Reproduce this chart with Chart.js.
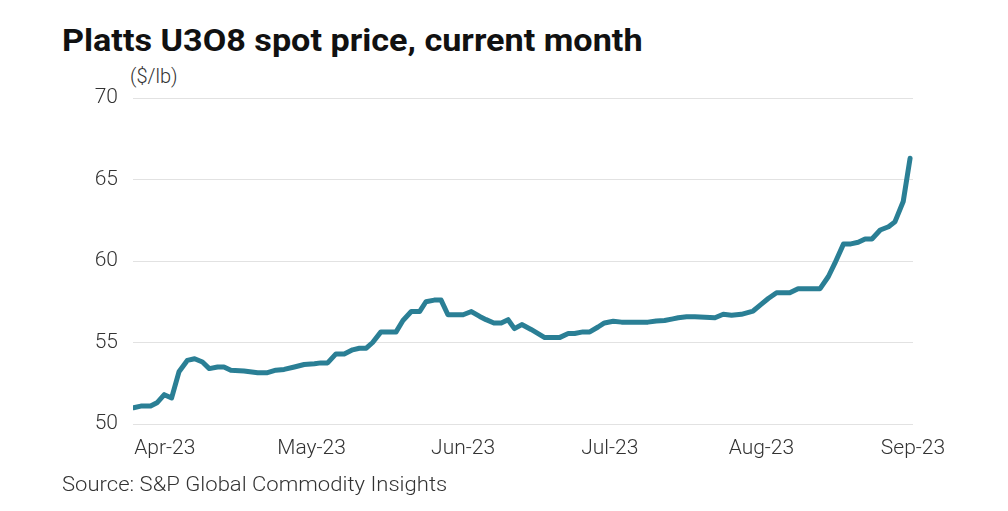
<!DOCTYPE html>
<html>
<head>
<meta charset="utf-8">
<script src="https://cdn.jsdelivr.net/npm/chart.js@4.4.0/dist/chart.umd.min.js"></script>
<style>
  html, body { margin: 0; padding: 0; background: #fff; }
  #wrap { position: relative; width: 1008px; height: 511px; overflow: hidden; font-family: Roboto, "Liberation Sans", sans-serif; }
  #title { position: absolute; left: 62px; top: 21px; font-size: 32px; font-weight: 700; color: #111; white-space: nowrap; transform-origin: 0 0; }
  #unit { position: absolute; left: 130px; top: 64px; font-size: 20px; font-weight: 300; color: #333; white-space: nowrap; }
  #source { position: absolute; left: 62px; top: 472px; font-size: 20px; font-weight: 300; color: #333; white-space: nowrap; transform-origin: 0 0; }
  canvas { position: absolute; left: 0; top: 0; }
</style>
</head>
<body>
<div id="wrap">
  <div id="title">Platts U3O8 spot price, current month</div>
  <div id="unit">($/lb)</div>
  <canvas id="chart" width="1008" height="511"></canvas>
  <div id="source">Source: S&amp;P Global Commodity Insights</div>
</div>
<script>
// Days counted from 1 Apr 2023
const days = [
  -6.4, -4.9, -2.9, -1.6, -0.1, 1.4, 2.9, 4.6, 6.1, 7.7, 9.1, 10.8, 12.1, 13.5,
  16.2, 19.0, 21.0, 22.7, 24.4, 26.5, 28.5, 30.6, 31.9, 33.3, 35.0, 36.7, 38.4,
  39.8, 41.2, 42.5, 44.2, 47.3, 48.7, 50.4, 52.1, 53.4, 55.1, 56.5, 57.9, 61.0,
  62.7, 64.4, 65.7, 67.3, 68.8, 70.2, 71.5, 73.0, 74.9, 77.7, 80.7, 82.5, 83.8,
  85.5, 86.9, 88.6, 89.9, 91.7, 93.4, 94.7, 98.8, 100.5, 102.2, 103.9, 105.0,
  106.7, 108.4, 112.5, 114.2, 115.9, 117.9, 120.3, 122.0, 123.4, 125.1, 127.8,
  129.5, 134.0, 135.7, 137.0, 138.8, 140.3, 141.8, 143.2, 144.6, 146.3, 148.0,
  149.3, 151.0, 152.4
];
// U3O8 spot price ($/lb)
const prices = [
  51.0, 51.1, 51.1, 51.3, 51.8, 51.6, 53.2, 53.9, 54.0, 53.8, 53.4, 53.5, 53.5, 53.3,
  53.25, 53.15, 53.15, 53.3, 53.35, 53.5, 53.65, 53.7, 53.75, 53.75, 54.3, 54.3, 54.55,
  54.65, 54.65, 55.0, 55.65, 55.65, 56.35, 56.9, 56.9, 57.5, 57.6, 57.6, 56.7, 56.7,
  56.9, 56.6, 56.4, 56.2, 56.2, 56.4, 55.85, 56.1, 55.8, 55.3, 55.3, 55.55, 55.55,
  55.65, 55.65, 55.95, 56.2, 56.3, 56.25, 56.25, 56.25, 56.32, 56.35, 56.45, 56.52,
  56.58, 56.58, 56.52, 56.73, 56.67, 56.73, 56.93, 57.35, 57.7, 58.05, 58.05,
  58.3, 58.3, 59.05, 59.85, 61.05, 61.05, 61.15, 61.35, 61.35, 61.9, 62.1,
  62.4, 63.65, 66.3
];
const monthStarts = [0, 30, 61, 91, 122, 153];
const monthLabels = ['Apr-23', 'May-23', 'Jun-23', 'Jul-23', 'Aug-23', 'Sep-23'];
const yTicks = [50, 55, 60, 65, 70];

// stretch a text line to the width it has in the reference
function fitWidth(id, target) {
  const el = document.getElementById(id);
  el.style.transform = `scaleX(${target / el.offsetWidth})`;
}
fitWidth('title', 581);
fitWidth('source', 385);

const tickFont = { family: 'Roboto, "Liberation Sans", sans-serif', size: 21, weight: 300 };

new Chart(document.getElementById('chart'), {
  type: 'line',
  data: {
    datasets: [{
      data: days.map((d, i) => ({ x: d, y: prices[i] })),
      borderColor: '#2a7f95',
      borderWidth: 5,
      pointRadius: 0,
      tension: 0,
      borderJoinStyle: 'round',
      borderCapStyle: 'round'
    }]
  },
  options: {
    responsive: false,
    animation: false,
    layout: { padding: { left: 0, right: 95, top: 98, bottom: 47 } },
    plugins: { legend: { display: false }, tooltip: { enabled: false } },
    scales: {
      x: {
        type: 'linear',
        min: -6.5,
        max: 153,
        grid: { display: false, drawTicks: false },
        border: { display: false },
        afterBuildTicks: s => { s.ticks = monthStarts.map(v => ({ value: v })); },
        afterFit: s => { s.height = 40; },
        ticks: {
          autoSkip: false,
          maxRotation: 0,
          padding: 12,
          color: '#333',
          font: tickFont,
          callback: v => monthLabels[monthStarts.indexOf(v)]
        }
      },
      y: {
        min: 50,
        max: 70,
        afterBuildTicks: s => { s.ticks = yTicks.map(v => ({ value: v })); },
        afterFit: s => { s.width = 133; },
        grid: { color: '#e2e2e2', lineWidth: 1, drawTicks: false },
        border: { display: false },
        ticks: { padding: 15, color: '#333', font: tickFont }
      }
    }
  }
});
</script>
</body>
</html>
